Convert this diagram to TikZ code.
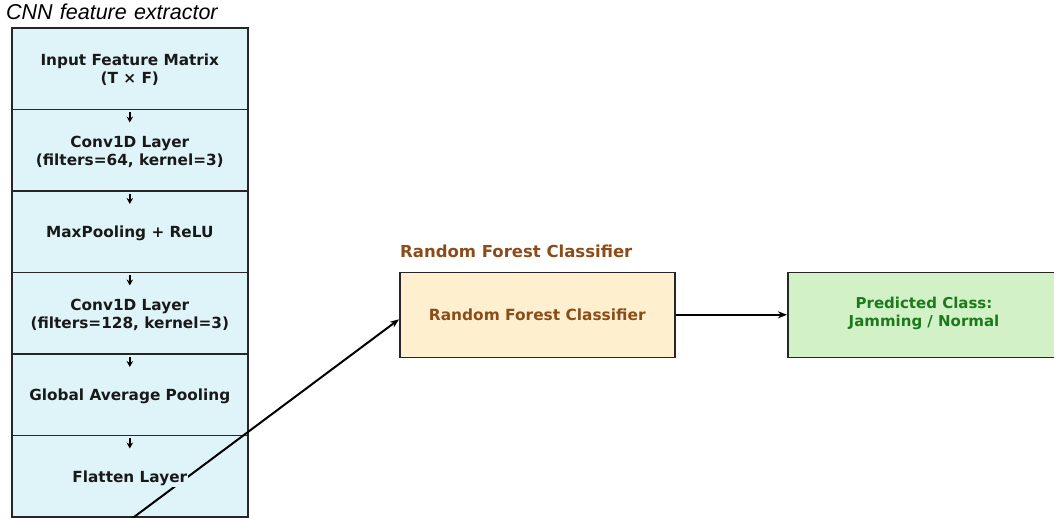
\documentclass[tikz,border=0pt]{standalone}
\usepackage{fontspec}
\setmainfont{DejaVu Sans}
\newfontfamily\titlefont{Liberation Sans}
\usetikzlibrary{arrows.meta,calc}
\definecolor{cnnfill}{HTML}{DFF4F9}
\definecolor{rffill}{HTML}{FEF0CF}
\definecolor{predfill}{HTML}{D3F1C6}
\definecolor{rftext}{HTML}{8B4C1A}
\definecolor{predtext}{HTML}{1C7A1C}
\definecolor{edge}{HTML}{262626}
\tikzset{
  layerbox/.style={draw=edge, line width=1.6pt, fill=cnnfill, minimum width=236pt, minimum height=81.5pt, inner sep=0pt, anchor=north west},
  btext/.style={font=\bfseries\fontsize{15.3}{17.5}\selectfont, align=center, text=black!90},
  smallarrow/.style={-{Stealth[length=6pt,width=6.5pt]}, line width=1.5pt, black},
  flowarrow/.style={-{Stealth[length=9pt,width=7pt]}, line width=2pt, black},
}
\begin{document}
\begin{tikzpicture}[x=1pt,y=-1pt]
\useasboundingbox (0,0) rectangle (1054,517);
\clip (0,0) rectangle (1054,517);
% CNN column
\node[layerbox] (b1) at (11,27) {};
\node[layerbox] (b2) at (11,108.5) {};
\node[layerbox] (b3) at (11,190) {};
\node[layerbox] (b4) at (11,271.5) {};
\node[layerbox] (b5) at (11,353) {};
\node[layerbox] (b6) at (11,434.5) {};
\node[btext] (t1) at ($(b1.center)+(0,1)$) {Input Feature Matrix\\(T × F)};
\node[btext] (t2) at ($(b2.center)+(0,2)$) {Conv1D Layer\\(filters=64, kernel=3)};
\node[btext] (t3) at ($(b3.center)+(0,2)$) {MaxPooling + ReLU};
\node[btext] (t4) at ($(b4.center)+(0,2)$) {Conv1D Layer\\(filters=128, kernel=3)};
\node[btext] (t5) at ($(b5.center)+(0,2)$) {Global Average Pooling};
\foreach \b in {b2,b3,b4,b5,b6}{
  \draw[smallarrow] ($(\b.north)+(0,3.5)$) -- ($(\b.north)+(0,14)$);
}
% title
\node[font=\titlefont\itshape\fontsize{21.5}{24}\selectfont, fill=white, inner sep=1pt, text width=218pt, align=left, anchor=west] (title) at (5,12) {CNN feature extractor};
% RF
\node[draw=edge, line width=1.6pt, fill=rffill, minimum width=275pt, minimum height=85pt, inner sep=0pt, anchor=north west,
      font=\bfseries\fontsize{15.4}{17.5}\selectfont, text=rftext] (rf) at (399,271.5) {Random Forest Classifier};
\node[font=\bfseries\fontsize{16.5}{19}\selectfont, text=rftext, anchor=south west, inner sep=0pt] (rflabel) at (400,258) {Random Forest Classifier};
% Prediction
\node[draw=edge, line width=1.6pt, fill=predfill, minimum width=274pt, minimum height=85pt, inner sep=0pt, anchor=north west] (pred) at (787,271.5) {};
\node[font=\bfseries\fontsize{15}{17.5}\selectfont, text=predtext, align=center] (predt) at (924,313.5) {Predicted Class:\\Jamming / Normal};
% connectors
\coordinate (src) at (130,520);
\draw[flowarrow] (src) -- ($(rf.west)+(0,4.5)$);
\node[btext, fill=cnnfill, inner sep=1pt] (t6) at ($(b6.center)+(0,2)$) {Flatten Layer};
\draw[flowarrow] (rf.east) -- (pred.west);
\end{tikzpicture}
\end{document}
